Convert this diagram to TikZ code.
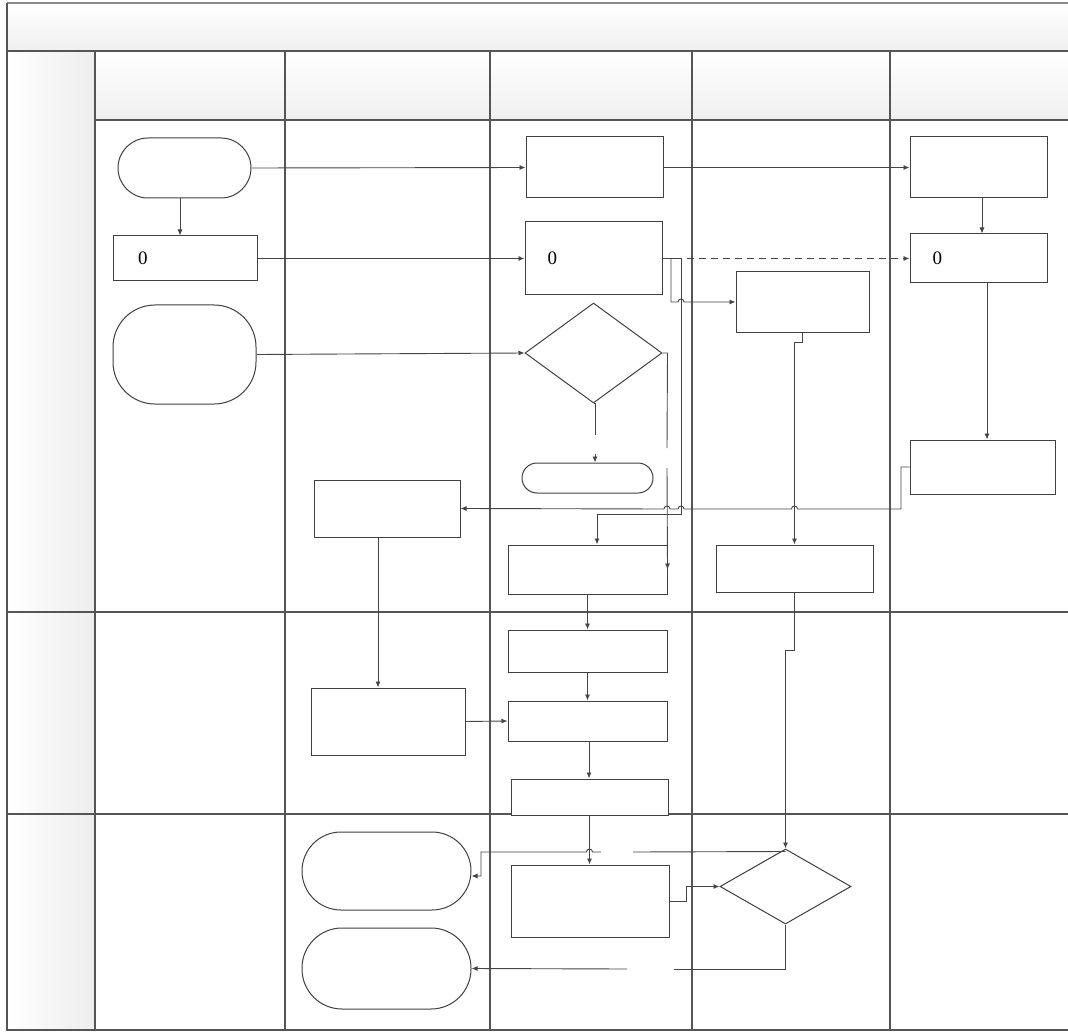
\documentclass[tikz,border=0pt]{standalone}
\usepackage{fontspec}
\setmainfont{Liberation Serif}
\usetikzlibrary{arrows.meta,shapes.geometric,calc}
\definecolor{laneC}{HTML}{555555}
\definecolor{topC}{HTML}{8A8A8A}
\definecolor{shapeC}{HTML}{404040}
\definecolor{lineC}{HTML}{454545}
\begin{document}
\begin{tikzpicture}[x=1pt,y=-1pt,
  lane/.style={draw=laneC,line width=1.1pt},
  box/.style={rectangle,draw=shapeC,line width=1pt,fill=white,inner sep=0pt},
  term/.style={box,rounded corners=#1},
  dec/.style={diamond,draw=shapeC,line width=1pt,fill=white,inner sep=0pt},
  zero/.style={font=\fontsize{19}{22}\selectfont,align=left,inner ysep=0pt},
  conn/.style={draw=lineC,line width=0.9pt},
  arr/.style={conn,-{Latex[length=6pt,width=5pt]}},
  dsh/.style={dash pattern=on 7pt off 5pt}]
\useasboundingbox (0,0) rectangle (1068,1032);
% swimlane background
\shade[top color=white,bottom color=black!6] (7,3) rectangle (1068,51);
\shade[top color=white,bottom color=black!6] (95,51) rectangle (1068,120);
\shade[left color=white,right color=black!7] (7,51) rectangle (95,1030);
\draw[draw=topC,line width=1.5pt] (7,3) -- (1068,3);
\draw[lane] (7,3) -- (7,1030) -- (1068,1030);
\draw[lane] (7,51) -- (1068,51);
\draw[lane] (95,120) -- (1068,120);
\draw[lane] (7,612) -- (1068,612);
\draw[lane] (7,814) -- (1068,814);
\foreach \xx in {95,285,490,692,890} \draw[lane] (\xx,51) -- (\xx,1030);
% nodes
\node[term=30pt,minimum width=133pt,minimum height=60pt] (start) at (184.5,168) {};
\node[box,zero,inner xsep=25pt,text width=94pt,minimum height=45pt] (n0a) at (185,258.5) {0};
\node[term=42pt,minimum width=143pt,minimum height=99pt] (bigS) at (184.5,354.5) {};
\node[box,minimum width=137pt,minimum height=61pt] (A) at (594.5,167.5) {};
\node[box,zero,inner xsep=22.5pt,text width=92pt,minimum height=73pt] (B) at (593.5,258.5) {0};
\node[dec,minimum width=137pt,minimum height=100pt] (dia1) at (593.5,353) {};
\node[term=15pt,minimum width=131pt,minimum height=30pt] (endS) at (587.5,478) {};
\node[box,minimum width=146pt,minimum height=57pt] (I) at (387,508.5) {};
\node[box,minimum width=159pt,minimum height=49pt] (D) at (587.5,569.5) {};
\node[box,minimum width=133pt,minimum height=60pt] (C) at (802.5,302) {};
\node[box,minimum width=157pt,minimum height=47pt] (E) at (794.5,568.5) {};
\node[box,minimum width=137pt,minimum height=61pt] (K) at (978.5,167.5) {};
\node[box,zero,inner xsep=22.5pt,text width=92pt,minimum height=49pt] (L) at (978.5,258.5) {0};
\node[box,minimum width=145pt,minimum height=54pt] (M) at (982.5,467) {};
\node[box,minimum width=159pt,minimum height=42pt] (F) at (587.5,651) {};
\node[box,minimum width=159pt,minimum height=40pt] (G) at (587.5,721) {};
\node[box,minimum width=157pt,minimum height=36pt] (H) at (589.5,797) {};
\node[box,minimum width=154pt,minimum height=67pt] (J) at (388,721.5) {};
\node[term=39pt,minimum width=169pt,minimum height=78pt] (S1) at (386.5,871) {};
\node[term=40pt,minimum width=169pt,minimum height=81pt] (S2) at (386.5,968.5) {};
\node[box,minimum width=158pt,minimum height=72pt] (N) at (590,901) {};
\node[dec,minimum width=131pt,minimum height=75pt] (dia2) at (785.5,886.5) {};
% connectors
\draw[arr] ([xshift=-4.5pt]start.south) -- ([xshift=-4.5pt]start.south |- n0a.north);
\draw[arr] (start.east) -- (A.west);
\draw[arr] (n0a.east) -- (B.west);
\draw[arr] (bigS.east) -- (dia1.west);
\draw[arr] (A.east) -- (K.west);
\draw[arr] ([xshift=3.5pt]K.south) -- ([xshift=3.5pt]K.south |- L.north);
\draw[arr,dsh] (B.east) -- (L.west);
\draw[arr] (B.east) -- (671,258.5) -- (671,302) -- (678,302) arc[start angle=180,end angle=360,radius=3] -- (C.west);
\draw[arr] (B.east) -- (681,258.5) -- (681,514) -- (597,514) -- ([xshift=9.5pt]D.north);
\draw[conn] (dia1.east) -- (D.east |- dia1.east) -- (667,448);
\draw[arr] (667,468) -- (D.east);
\draw[conn] (dia1.south) -- ++(2,0) -- ++(0,31);
\draw[arr] ($([xshift=7.5pt]endS.north)+(0,-9)$) -- ([xshift=7.5pt]endS.north);
\draw[arr] (C.south) -- ++(0,10) -| (E.north);
\draw[arr] ([xshift=8.5pt]L.south) -- ([xshift=8.5pt]L.south |- M.north);
\draw[arr] (M.west) -- (901,467) -- (901,509) -- (797.5,509) arc[start angle=0,end angle=-180,radius=3]
  -- (684,509) arc[start angle=0,end angle=-180,radius=3]
  -- (670,509) arc[start angle=0,end angle=-180,radius=3] -- (I.east);
\draw[arr] ([xshift=-9pt]I.south) -- ([xshift=-9pt]I.south |- J.north);
\draw[arr] (J.east) -- (G.west);
\draw[arr] (D.south) -- (F.north);
\draw[arr] (F.south) -- (G.north);
\draw[arr] ([xshift=1.5pt]G.south) -- ([xshift=1.5pt]G.south |- H.north);
\draw[arr] (E.south) -- ++(0,58) -| (dia2.north);
\draw[arr] (H.south) -- (H.south |- N.north);
\draw[conn] ([yshift=-3pt]dia2.north) -- (633,852);
\draw[arr] (601,852) -- (592.5,852) arc[start angle=0,end angle=-180,radius=3] -- (481,852) |- ([yshift=-5pt]S1.east);
\draw[arr] (N.east) -- (686,901) |- (dia2.west);
\draw[conn] (dia2.south) |- (674,969);
\draw[arr] (627,969) -- (S2.east);
\end{tikzpicture}
\end{document}
